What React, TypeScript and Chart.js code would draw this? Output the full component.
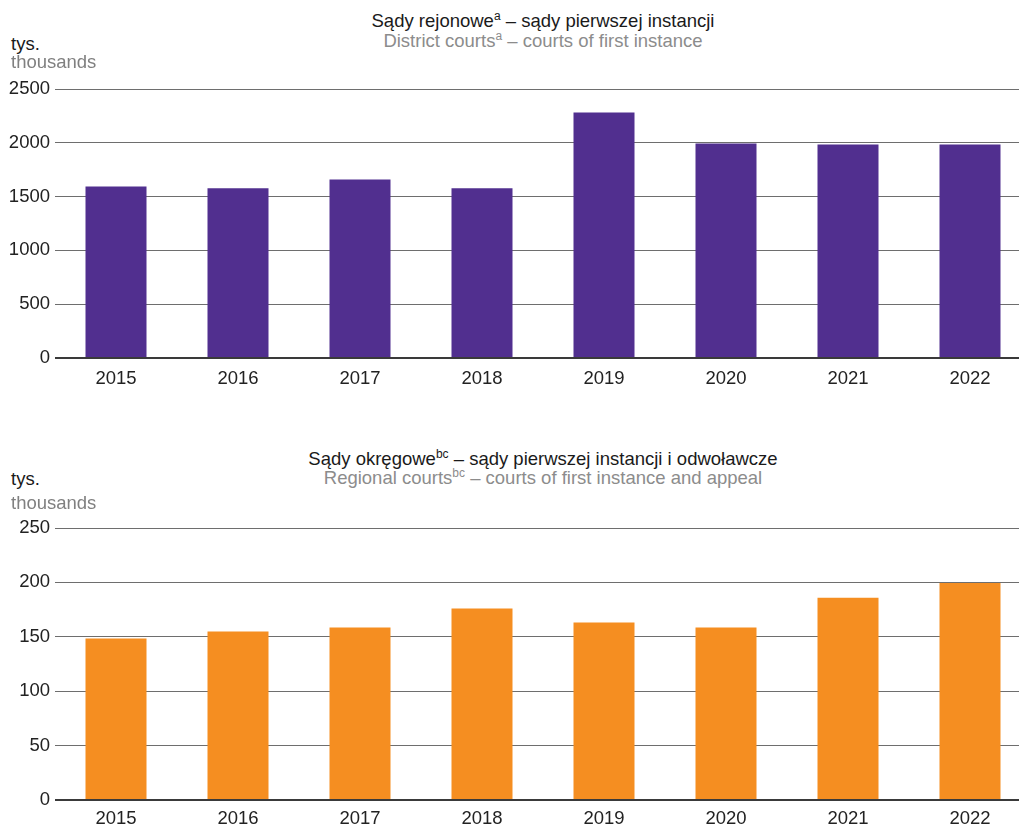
import React, { useEffect, useRef } from "react";
import { Chart, registerables } from "chart.js";

Chart.register(...registerables);

const years = ["2015", "2016", "2017", "2018", "2019", "2020", "2021", "2022"];
const districtValues = [1595, 1577, 1660, 1577, 2281, 1994, 1985, 1985];
const regionalValues = [148.4, 154.9, 158.5, 176, 163.1, 158.5, 186, 199.5];
const districtTicks = [0, 500, 1000, 1500, 2000, 2500];
const regionalTicks = [0, 50, 100, 150, 200, 250];

const FONT = "'Liberation Sans', Arial, Helvetica, sans-serif";
const FS = 18.5;

function makeChart(
  canvas: HTMLCanvasElement,
  labels: string[],
  values: number[],
  ticks: number[],
  color: string,
  xPad: number
) {
  const max = ticks[ticks.length - 1];
  const step = ticks[1] - ticks[0];
  return new Chart(canvas, {
    type: "bar",
    data: {
      labels,
      datasets: [
        {
          data: values,
          backgroundColor: color,
          borderWidth: 0,
          barPercentage: 0.5,
          categoryPercentage: 1,
        },
      ],
    },
    options: {
      animation: false,
      responsive: false,
      devicePixelRatio: 1,
      layout: { padding: { top: 20, right: 0, bottom: 0, left: 0 } },
      plugins: { legend: { display: false }, tooltip: { enabled: false }, title: { display: false } },
      scales: {
        x: {
          grid: { display: false, drawTicks: false },
          border: { display: false },
          ticks: { color: "#222", font: { family: FONT, size: FS }, padding: xPad, maxRotation: 0 },
          afterFit: (s: any) => {
            s.height = 42;
          },
        },
        y: {
          min: 0,
          max,
          grid: {
            drawTicks: false,
            color: (ctx: any) => (ctx.tick && ctx.tick.value === 0 ? "#3a3a3a" : "#6e6e6e"),
            lineWidth: (ctx: any) => (ctx.tick && ctx.tick.value === 0 ? 2 : 1),
          },
          border: { display: false },
          ticks: {
            stepSize: step,
            color: "#222",
            font: { family: FONT, size: FS },
            padding: 5,
            callback: (v: any) => String(v),
          },
          afterFit: (s: any) => {
            s.width = 55;
          },
        },
      },
    },
  });
}

const lineStyle = (top: number, color: string): React.CSSProperties => ({
  position: "absolute",
  top,
  left: 55,
  width: 976,
  textAlign: "center",
  fontFamily: FONT,
  fontSize: FS,
  lineHeight: "20px",
  color,
  whiteSpace: "nowrap",
  zIndex: 2,
});

const unitStyle = (top: number, color: string): React.CSSProperties => ({
  position: "absolute",
  top,
  left: 11,
  fontFamily: FONT,
  fontSize: FS,
  lineHeight: "20px",
  color,
  whiteSpace: "nowrap",
  zIndex: 2,
});

const supStyle: React.CSSProperties = {
  fontSize: 12,
  position: "relative",
  top: -7,
};

export default function App() {
  const ref1 = useRef<HTMLCanvasElement>(null);
  const ref2 = useRef<HTMLCanvasElement>(null);

  useEffect(() => {
    const c1 = makeChart(ref1.current!, years, districtValues, districtTicks, "#512f8f", 10);
    const c2 = makeChart(ref2.current!, years, regionalValues, regionalTicks, "#f58e21", 8);
    return () => {
      c1.destroy();
      c2.destroy();
    };
  }, []);

  return (
    <div
      style={{
        position: "absolute",
        top: 0,
        left: 0,
        width: 1019,
        height: 824,
        overflow: "hidden",
        background: "#fff",
      }}
    >
      <div style={lineStyle(11, "#1a1a1a")}>
        Sądy rejonowe<span style={supStyle}>a</span> – sądy pierwszej instancji
      </div>
      <div style={lineStyle(31, "#8c8c8c")}>
        District courts<span style={supStyle}>a</span> – courts of first instance
      </div>
      <div style={unitStyle(34, "#1a1a1a")}>tys.</div>
      <div style={unitStyle(52, "#808080")}>thousands</div>
      <canvas
        ref={ref1}
        width={1031}
        height={331}
        style={{ position: "absolute", top: 69, left: 0, width: 1031, height: 331 }}
      />

      <div style={lineStyle(449, "#1a1a1a")}>
        Sądy okręgowe<span style={supStyle}>bc</span> – sądy pierwszej instancji i odwoławcze
      </div>
      <div style={lineStyle(468, "#8c8c8c")}>
        Regional courts<span style={supStyle}>bc</span> – courts of first instance and appeal
      </div>
      <div style={unitStyle(469, "#1a1a1a")}>tys.</div>
      <div style={unitStyle(493, "#808080")}>thousands</div>
      <canvas
        ref={ref2}
        width={1031}
        height={334}
        style={{ position: "absolute", top: 508, left: 0, width: 1031, height: 334 }}
      />
    </div>
  );
}
